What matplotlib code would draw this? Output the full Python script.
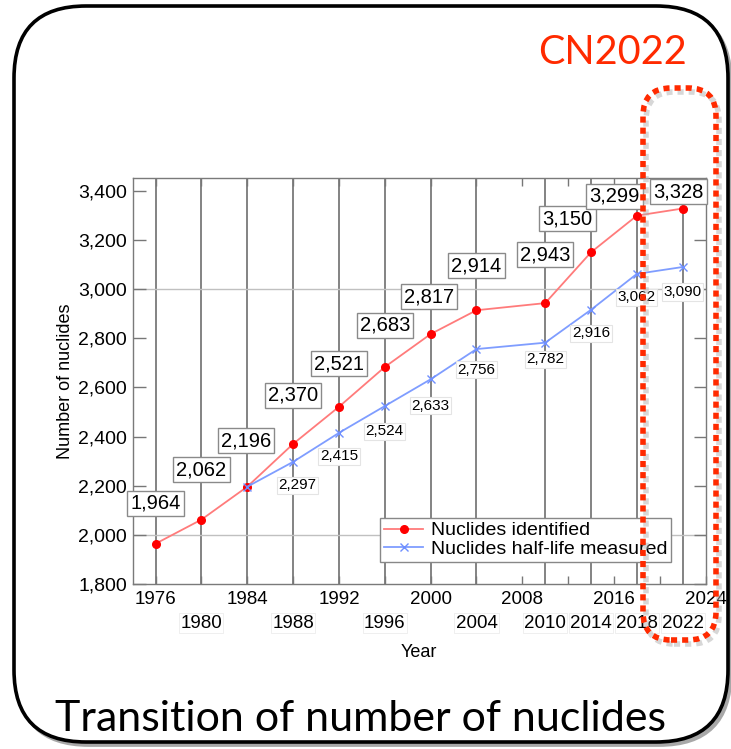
import numpy as np
import matplotlib.pyplot as plt
from matplotlib.patches import FancyBboxPatch
from matplotlib.ticker import FuncFormatter

plt.rcParams['font.family'] = ['Liberation Sans', 'DejaVu Sans']

# data
years = [1976, 1980, 1984, 1988, 1992, 1996, 2000, 2004, 2010, 2014, 2018, 2022]
identified = [1964, 2062, 2196, 2370, 2521, 2683, 2817, 2914, 2943, 3150, 3299, 3328]
hl_years = [1984, 1988, 1992, 1996, 2000, 2004, 2010, 2014, 2018, 2022]
halflife = [2196, 2297, 2415, 2524, 2633, 2756, 2782, 2916, 3062, 3090]
upper_ticks = [1976, 1984, 1992, 2000, 2008, 2016, 2024]
lower_ticks = [1980, 1988, 1996, 2004, 2010, 2014, 2018, 2022]

# label offsets in points (layout only)
red_dx = [0, 0, -1, 0, 0, 0, -1, 0, 0, -17, -16, -3]
red_dy = [29, 36, 33, 35, 31, 30, 27, 32, 35, 24, 14, 12]
blue_dx = [0, 3, 0, 0, 0, 0, 0, 0, 0, 0]
blue_dy = [0, -17, -17, -18, -19, -15, -12, -17, -17, -18]

fig = plt.figure(figsize=(7.31, 7.49), dpi=100)
fig.patch.set_facecolor('white')
ax = fig.add_axes([0.1815, 0.2203, 0.7838, 0.542])

# grid lines
for yr in years:
    ax.axvline(yr, color='#7a7a7a', lw=1.3, zorder=1)
for v in [2000, 3000]:
    ax.axhline(v, color='#c0c0c0', lw=1.0, zorder=1)

ax.plot(years, identified, '-', color='#ff7b7b', lw=1.3, marker='o', ms=5.5,
        mfc='#ff0000', mec='#ff0000', label='Nuclides identified', zorder=3)
ax.plot(hl_years, halflife, '-', color='#7f9dff', lw=1.3, marker='x', ms=6,
        mec='#6f8fff', mew=1.0, label='Nuclides half-life measured', zorder=3)

for i in range(len(years)):
    ax.annotate(f'{identified[i]:,}', (years[i], identified[i]),
                xytext=(red_dx[i], red_dy[i]), textcoords='offset points',
                ha='center', va='center', fontsize=14.5, zorder=5,
                bbox=dict(boxstyle='square,pad=0.15', fc='white', ec='#8a8a8a', lw=1))
for i in range(1, len(hl_years)):
    ax.annotate(f'{halflife[i]:,}', (hl_years[i], halflife[i]),
                xytext=(blue_dx[i], blue_dy[i]), textcoords='offset points',
                ha='center', va='center', fontsize=11, zorder=5,
                bbox=dict(boxstyle='square,pad=0.1', fc='white', ec='#e4e4e4', lw=0.8))

ax.set_xlim(1974, 2024)
ax.set_ylim(1800, 3452)
ax.set_yticks(np.arange(1800, 3401, 200))
ax.yaxis.set_major_formatter(FuncFormatter(lambda v, p: f'{int(v):,}'))
ax.set_xticks(upper_ticks)
ax.set_xticklabels([str(y) for y in upper_ticks])
ax.set_xticks(list(range(1976, 2025, 4)), minor=True)
ax.tick_params(axis='y', direction='in', length=9, width=1, color='#777777',
               left=True, right=True, labelsize=14, pad=4)
ax.tick_params(axis='x', which='both', direction='in', length=6, width=1,
               color='#777777', top=True, bottom=True, labelsize=13.5, pad=5)
for lab in ax.get_xticklabels():
    lab.set_zorder(6)

for yr in lower_ticks:
    ax.annotate(str(yr), (yr, 0), xycoords=('data', 'axes fraction'),
                xytext=(0, -22), textcoords='offset points', ha='center', va='top',
                fontsize=13.5, annotation_clip=False,
                bbox=dict(boxstyle='square,pad=0.06', fc='white', ec='#ececec', lw=0.6))

for s in ax.spines.values():
    s.set_color('#7a7a7a')
    s.set_linewidth(1.0)

ax.set_ylabel('Number of nuclides', fontsize=13, labelpad=3)
ax.set_xlabel('Year', fontsize=13, labelpad=26)

leg = ax.legend(loc='upper left', bbox_to_anchor=(0.432, 0.163), borderaxespad=0,
                fontsize=14, frameon=True, fancybox=False, edgecolor='#888888',
                framealpha=1, labelspacing=0.05, borderpad=0.2, handlelength=2.0,
                handletextpad=0.4)
leg.set_zorder(7)
leg.get_frame().set_linewidth(1.0)

# outer rounded frame with shadow (behind the axes)
t = fig.dpi_scale_trans
shadow = FancyBboxPatch((0.17, 0.035), 7.14, 7.36, boxstyle='round,pad=0,rounding_size=0.72',
                        fc='#a8a8a8', ec='#a8a8a8', lw=2, transform=t, zorder=-2)
frame = FancyBboxPatch((0.14, 0.07), 7.14, 7.36, boxstyle='round,pad=0,rounding_size=0.72',
                       fc='white', ec='black', lw=2.6, transform=t, zorder=-1)
fig.add_artist(shadow)
fig.add_artist(frame)

# dotted highlight around CN2022 column
hshadow = FancyBboxPatch((6.46, 1.05), 0.73, 5.52, boxstyle='round,pad=0,rounding_size=0.28',
                         fc='none', ec='#b0b0b0', lw=4, alpha=0.5, linestyle=(0, (1.1, 0.9)),
                         transform=t, zorder=8)
hl = FancyBboxPatch((6.43, 1.09), 0.73, 5.52, boxstyle='round,pad=0,rounding_size=0.28',
                    fc='none', ec='#ff2a00', lw=4, linestyle=(0, (1.1, 0.9)),
                    transform=t, zorder=9)
fig.add_artist(hshadow)
fig.add_artist(hl)

fig.text(6.13, 6.97, 'CN2022', transform=t, color='#ff2a00', fontsize=28.5,
         family=['Lato', 'DejaVu Sans'], ha='center', va='center')
fig.text(0.55, 0.30, 'Transition of number of nuclides', transform=t, color='black',
         fontsize=31, family=['Lato', 'DejaVu Sans'], ha='left', va='center')

fig.savefig('out.png', dpi=100)
